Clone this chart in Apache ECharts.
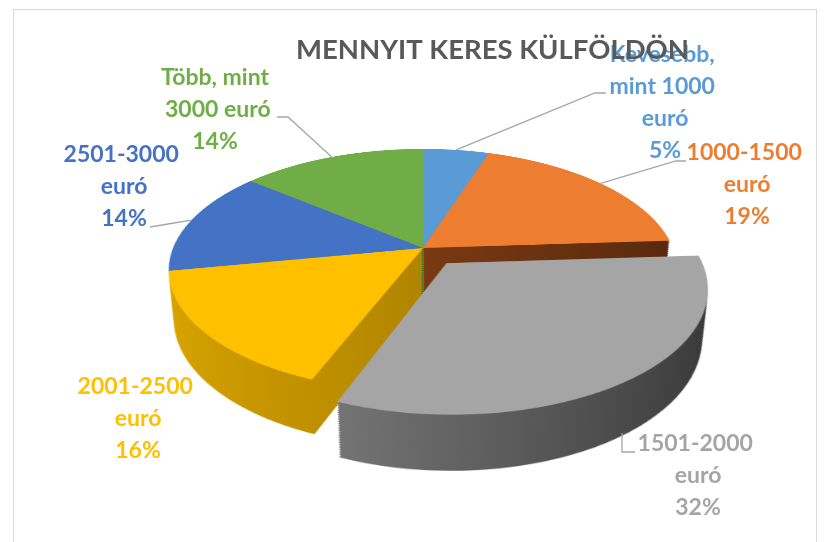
<!DOCTYPE html>
<html>
<head>
<meta charset="utf-8">
<script src="https://cdn.jsdelivr.net/npm/echarts@6/dist/echarts.min.js"></script>
<style>
  html, body { margin: 0; padding: 0; background: #fff; }
  body { width: 827px; height: 542px; position: relative; overflow: hidden; }
  .frame {
    position: absolute; left: 13px; top: 9px; width: 804px; height: 560px;
    border: 1px solid #d9d9d9; box-sizing: border-box;
  }
  /* the pie is drawn flat and tilted back with a css perspective, like the excel 3d pie */
  #pie {
    position: absolute; width: 600px; height: 760px; left: 123px; top: -132px;
    transform-origin: 50% 50%;
    transform: perspective(1200px) rotateX(62deg);
  }
  #labels { position: absolute; left: 0; top: 0; width: 827px; height: 542px; }
</style>
</head>
<body>
<div class="frame"></div>
<div id="pie"></div>
<div id="labels"></div>
<script>
// adatok
const categories = [
  'Kevesebb, mint 1000 euró',
  '1000-1500 euró',
  '1501-2000 euró',
  '2001-2500 euró',
  '2501-3000 euró',
  'Több, mint 3000 euró'
]
const shares = [5, 19, 32, 16, 14, 14]
const explodedIndex = 2
const chartTitle = 'MENNYIT KERES KÜLFÖLDÖN'

// colours
const topColors = ['#5b9bd5', '#ed7d31', '#a5a5a5', '#ffc000', '#4472c4', '#70ad47']
const sideColors = [
  ['#4a82b8', '#3a6a9c'],
  ['#7a3a12', '#5a2a0e'],
  ['#747474', '#383838'],
  ['#d8a400', '#b08400'],
  ['#3760a8', '#2a4c8a'],
  ['#5a9238', '#467a2a']
]

// layout of the tilted pie
const CX = 423, CY = 248      // pie centre on the page
const R = 250                 // radius before tilt
const TILT = 62, PERSP = 1200 // same numbers as the css transform
// the underside is approximated by a smaller disc pushed forward in the plane,
// the wall is filled with discs in between
const DEPTH_SHIFT = 95, DEPTH_SHRINK = 22, LAYERS = 24
const EXPLODE = 39

// label placement (page pixels)
const labelAnchors = [[665, 103], [747, 185], [698, 476], [138, 419], [124, 187], [215, 110]]
// leader lines: 2 points are joined to the slice rim, 3 points are used as they are
const lineBends = [
  [[595, 93], [606, 93]],
  [[676, 161], [686, 161]],
  [[622, 433], [622, 452], [635, 452]],
  null,
  [[168, 224], [150, 227]],
  [[288, 117], [277, 117]]
]

// same projection the browser applies to #pie
const project = (px, py) => {
  const a = TILT * Math.PI / 180
  const z = py * Math.sin(a)
  const s = PERSP / (PERSP - z)
  return [CX + px * s, CY + py * Math.cos(a) * s]
}

const total = shares.reduce((a, b) => a + b, 0)
const midAngle = i => {
  const before = shares.slice(0, i).reduce((a, b) => a + b, 0)
  return 2 * Math.PI * (before + shares[i] / 2) / total
}

// point on the slice rim where its leader line starts
const rimPoint = i => {
  const t = midAngle(i)
  const r = R + (i === explodedIndex ? EXPLODE : 0)
  return project(r * Math.sin(t), -r * Math.cos(t))
}

const pieChart = echarts.init(document.getElementById('pie'), null, { devicePixelRatio: 2 })

const pieLayer = (shift, radius, colorOf) => ({
  type: 'pie',
  radius: radius,
  center: [300, 380 + shift],
  startAngle: 90,
  clockwise: true,
  selectedMode: 'single',
  selectedOffset: EXPLODE * radius / R,
  silent: true,
  label: { show: false },
  labelLine: { show: false },
  itemStyle: { borderWidth: 0 },
  select: { itemStyle: { borderWidth: 0 } },
  data: categories.map((name, i) => ({
    name,
    value: shares[i],
    selected: i === explodedIndex,
    itemStyle: { color: colorOf(i) },
    select: { itemStyle: { color: colorOf(i) } }
  }))
})

const sideColor = i => new echarts.graphic.LinearGradient(0, 0, 1, 0, [
  { offset: 0, color: sideColors[i][0] },
  { offset: 1, color: sideColors[i][1] }
])

const layers = []
for (let j = LAYERS; j > 0; j--) {
  const f = j / LAYERS
  layers.push(pieLayer(DEPTH_SHIFT * f, R - DEPTH_SHRINK * f, sideColor))
}
layers.push(pieLayer(0, R, i => topColors[i]))

pieChart.setOption({
  animation: false,
  series: layers
})

const labelChart = echarts.init(document.getElementById('labels'))

labelChart.setOption({
  animation: false,
  title: {
    text: chartTitle,
    left: 291,
    top: 31,
    textStyle: {
      fontFamily: 'Lato',
      fontWeight: 'bold',
      fontSize: 27.5,
      color: '#595959'
    }
  },
  series: [
    {
      type: 'pie',
      radius: 120,
      center: [CX, CY],
      silent: true,
      itemStyle: { color: 'rgba(0,0,0,0)' },
      label: {
        show: true,
        position: 'outside',
        fontFamily: 'Lato',
        fontWeight: 'bold',
        fontSize: 23,
        lineHeight: 32,
        width: 125,
        overflow: 'break',
        align: 'center',
        formatter: p => p.name + '\n' + Math.round(p.percent) + '%'
      },
      labelLine: {
        show: true,
        lineStyle: { color: '#a6a6a6', width: 1.3 }
      },
      labelLayout: p => {
        const i = p.dataIndex
        const res = {
          x: labelAnchors[i][0],
          y: labelAnchors[i][1],
          align: 'center',
          verticalAlign: 'middle'
        }
        const bends = lineBends[i]
        if (bends) {
          res.labelLinePoints = bends.length === 3 ? bends : [rimPoint(i), bends[0], bends[1]]
        }
        return res
      },
      data: categories.map((name, i) => ({
        name,
        value: shares[i],
        label: { color: topColors[i] },
        labelLine: { show: lineBends[i] !== null }
      }))
    }
  ]
})
</script>
</body>
</html>
